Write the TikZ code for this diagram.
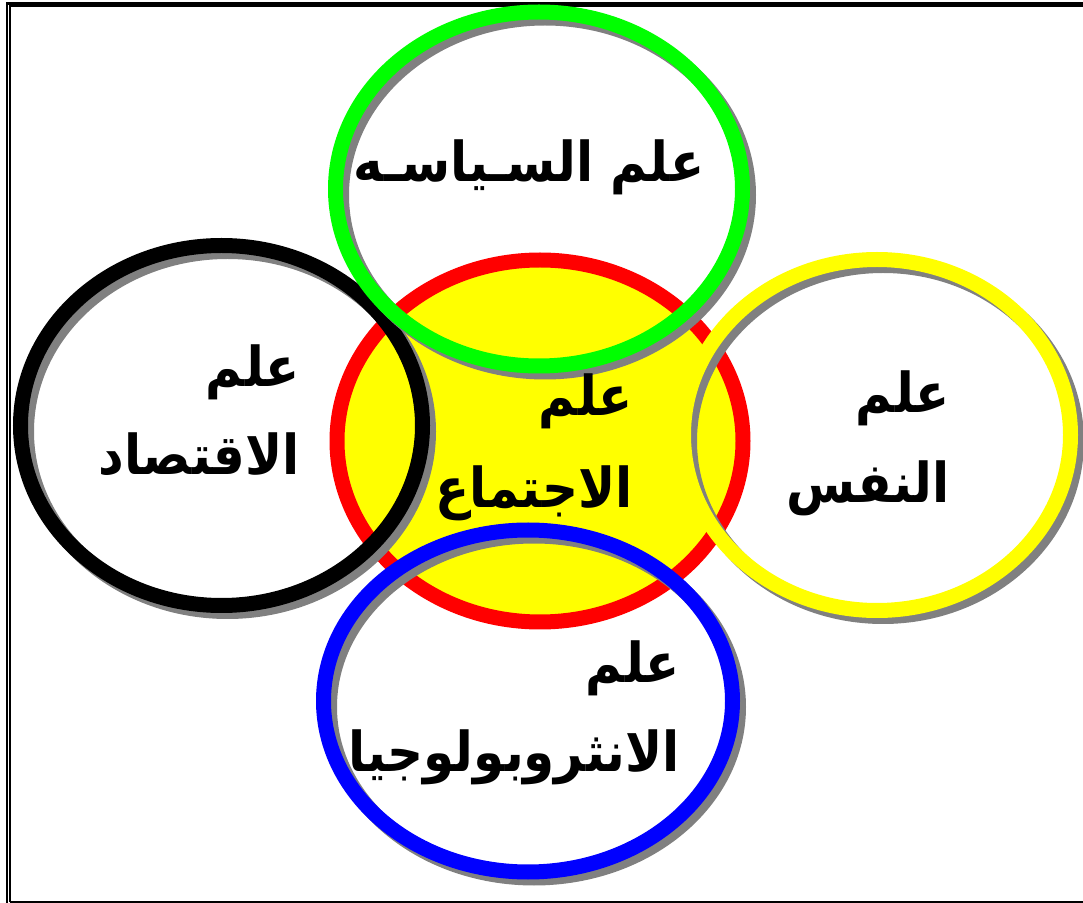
\documentclass[tikz,border=0pt]{standalone}
\usepackage{fontspec}
\newfontfamily\arabicfont[Script=Arabic]{DejaVu Sans}
\TeXXeTstate=1
\definecolor{shadowgray}{HTML}{808080}
\definecolor{ringgreen}{HTML}{00FF00}
\definecolor{ringyellow}{HTML}{FFFF00}
\definecolor{ringred}{HTML}{FF0000}
\definecolor{ringblue}{HTML}{0000FF}
\begin{document}
\begin{tikzpicture}[x=0.5pt,y=-0.5pt,
  ring/.style={line width=7.5pt},
  shadowring/.style={line width=7.5pt, draw=shadowgray, shift={(6,6)}},
  lbl/.style={font=\arabicfont\bfseries\fontsize{25}{30}\selectfont, inner sep=0pt, anchor=base east, yscale=1.1, transform shape}]
\useasboundingbox (0,0) rectangle (1083,903);
% frame
\draw[line width=1.25pt] (7,903) -- (7,3.3) -- (1083,3.3);
\draw[line width=0.9pt] (10,902) -- (10,6.3) -- (1083,6.3);
\draw[line width=0.8pt] (10,902) -- (1083,902);
% central filled circle
\draw[ring, draw=ringred, fill=ringyellow] (540,441) ellipse [x radius=101.5pt, y radius=90.5pt];
% black
\draw[shadowring] (221.5,425.5) ellipse [x radius=100.5pt, y radius=90pt];
\draw[ring, draw=black] (221.5,425.5) ellipse [x radius=100.5pt, y radius=90pt];
% green
\draw[shadowring] (539,189) ellipse [x radius=101.75pt, y radius=88.5pt];
\draw[ring, draw=ringgreen] (539,189) ellipse [x radius=101.75pt, y radius=88.5pt];
% yellow
\draw[shadowring] (877,435) ellipse [x radius=96.75pt, y radius=87.75pt];
\draw[ring, draw=ringyellow] (877,435) ellipse [x radius=96.75pt, y radius=87.75pt];
% blue
\draw[shadowring] (528,701) ellipse [x radius=102.25pt, y radius=85.5pt];
\draw[ring, draw=ringblue] (528,701) ellipse [x radius=102.25pt, y radius=85.5pt];
% labels
\node[lbl] (pol) at (705,182) {\beginR علم السـياسـه\endR};
\node[lbl] (eco1) at (300,387) {\beginR علم\endR};
\node[lbl] (eco2) at (300,475) {\beginR الاقتصاد\endR};
\node[lbl] (soc1) at (633,416) {\beginR علم\endR};
\node[lbl] (soc2) at (633,508) {\beginR الاجتماع\endR};
\node[lbl] (psy1) at (950,413) {\beginR علم\endR};
\node[lbl] (psy2) at (950,503) {\beginR النفس\endR};
\node[lbl] (ant1) at (680,683) {\beginR علم\endR};
\node[lbl] (ant2) at (680,772) {\beginR الانثروبولوجيا\endR};
\end{tikzpicture}
\end{document}
